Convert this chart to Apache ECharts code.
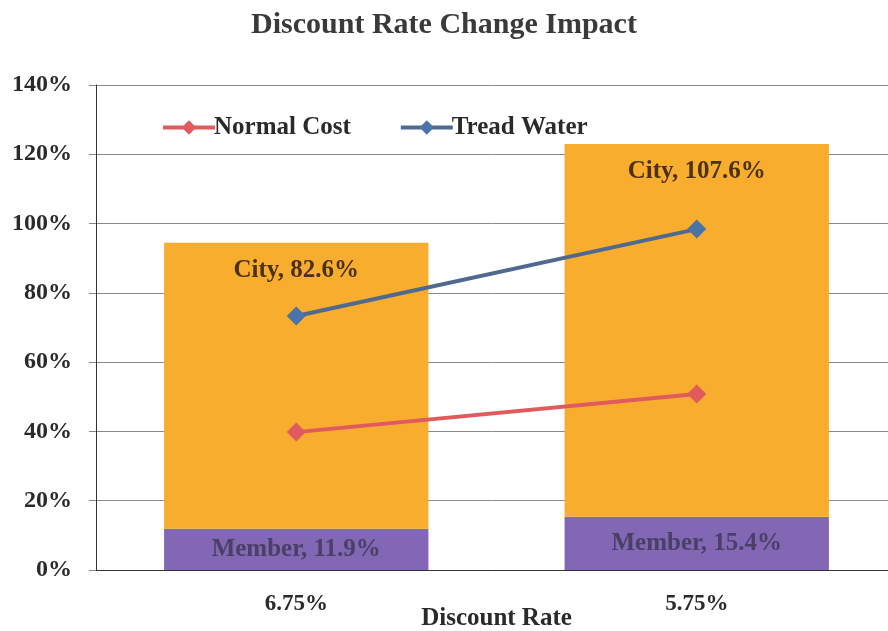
<!DOCTYPE html>
<html>
<head>
<meta charset="utf-8">
<script src="https://cdn.jsdelivr.net/npm/echarts@6/dist/echarts.min.js"></script>
<style>
  html, body { margin: 0; padding: 0; background: #fff; }
  #chart { width: 888px; height: 631px; }
</style>
</head>
<body>
<div id="chart"></div>
<script>
  // data
  var categories = ['6.75%', '5.75%']
  var member = [11.9, 15.4]
  var city = [82.6, 107.6]
  var normalCost = [39.8, 50.8]
  var treadWater = [73.3, 98.4]
  var yTicks = [0, 20, 40, 60, 80, 100, 120, 140]

  var serif = '"Liberation Serif", "DejaVu Serif", serif'

  var chart = echarts.init(document.getElementById('chart'))
  chart.setOption({
    animation: false,
    title: {
      text: 'Discount Rate Change Impact',
      left: 'center',
      top: 5,
      textStyle: { fontFamily: serif, fontSize: 30, fontWeight: 'bold', color: '#3a3a3a' }
    },
    legend: {
      left: 156,
      top: 110,
      itemWidth: 52,
      itemHeight: 18,
      itemGap: 48,
      data: ['Normal Cost', 'Tread Water'],
      lineStyle: { width: 4 },
      textStyle: { fontFamily: serif, fontSize: 25, fontWeight: 'bold', color: '#2a2a2a', padding: [0, 0, 0, -6] }
    },
    grid: {
      left: 96,
      top: 85,
      width: 801,
      height: 485,
      outerBoundsMode: 'none'
    },
    xAxis: {
      type: 'category',
      data: categories,
      name: 'Discount Rate',
      nameLocation: 'middle',
      nameGap: 36,
      nameMoveOverlap: false,
      nameTextStyle: { fontFamily: serif, fontSize: 25, fontWeight: 'bold', color: '#2a2a2a' },
      axisLine: { lineStyle: { color: '#333', width: 1 } },
      axisTick: { show: false },
      axisLabel: { fontFamily: serif, fontSize: 23, fontWeight: 'bold', color: '#2a2a2a', margin: 23 }
    },
    yAxis: {
      type: 'value',
      min: yTicks[0],
      max: yTicks[yTicks.length - 1],
      interval: 20,
      axisLine: { show: true, lineStyle: { color: '#333', width: 1 } },
      axisTick: { show: true, length: 7, lineStyle: { color: '#888' } },
      splitLine: { lineStyle: { color: '#8a8a8a', width: 1 } },
      axisLabel: {
        fontFamily: serif, fontSize: 24, fontWeight: 'bold', color: '#2a2a2a', margin: 24,
        formatter: '{value}%'
      }
    },
    series: [
      {
        name: 'Member',
        type: 'bar',
        stack: 'total',
        data: member,
        barWidth: '66%',
        itemStyle: { color: '#8268b4' },
        label: {
          show: true,
          position: 'inside',
          formatter: function (p) { return 'Member, ' + p.value + '%' },
          fontFamily: serif, fontSize: 25, fontWeight: 'bold', color: '#4a3f66'
        }
      },
      {
        name: 'City',
        type: 'bar',
        stack: 'total',
        data: city,
        itemStyle: { color: '#f8ad2e' },
        label: {
          show: true,
          position: 'insideTop',
          distance: 15,
          formatter: function (p) { return 'City, ' + p.value + '%' },
          fontFamily: serif, fontSize: 25, fontWeight: 'bold', color: '#4a3212'
        }
      },
      {
        name: 'Normal Cost',
        type: 'line',
        data: normalCost,
        symbol: 'diamond',
        symbolSize: 19,
        lineStyle: { color: '#e05a5e', width: 4 },
        itemStyle: { color: '#e05a5e' },
        z: 5
      },
      {
        name: 'Tread Water',
        type: 'line',
        data: treadWater,
        symbol: 'diamond',
        symbolSize: 19,
        lineStyle: { color: '#50698f', width: 4 },
        itemStyle: { color: '#4a73a8' },
        z: 5
      }
    ]
  })
</script>
</body>
</html>
